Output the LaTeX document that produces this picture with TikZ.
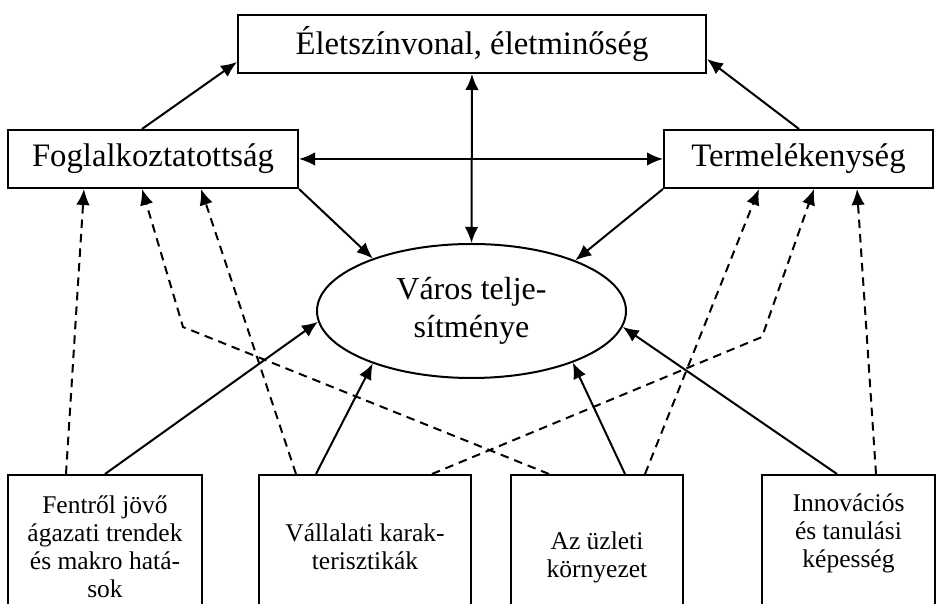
\documentclass[tikz,border=0pt]{standalone}
\usepackage{fontspec}
\setmainfont{Liberation Serif}
\usetikzlibrary{positioning,shapes.geometric,arrows.meta,calc}
% lines of a bottom box, moved up or down by #1 without changing the box size
\newcommand{\liftlines}[2]{\raisebox{#1}[\height][\depth]{\begin{tabular}{@{}c@{}}#2\end{tabular}}}

\begin{document}
\begin{tikzpicture}[x=0.4pt, y=-0.4pt, line width=0.8pt,
    >={Latex[length=6.4pt,width=5.4pt]},
    box/.style={draw, rectangle, minimum height=23.2pt, inner sep=0pt, font=\fontsize{13.1}{15}\selectfont},
    oval/.style={draw, ellipse, minimum width=123.6pt, minimum height=53.6pt, inner sep=0pt, align=center, font=\fontsize{12.8}{15}\selectfont},
    base/.style={draw, rectangle, anchor=north, minimum height=60pt, inner sep=0pt, font=\fontsize{10.2}{11.2}\selectfont},
    infl/.style={->, dash pattern=on 3.4pt off 2.4pt}]
    \clip (0,0) rectangle (941,604);

    \node (life) [box, minimum width=187.2pt] at (472,44) {Életszínvonal, életminőség};
    \node (fog) [box, minimum width=116pt] at (153,159) {Foglalkoztatottság};
    \node (term) [box, minimum width=107.6pt] at (798.5,159) {Termelékenység};
    \node (city) [oval] at (471.5,311) {Város telje-\\sítménye};
    \node (b1) [base, minimum width=77.6pt] at (105,474) {\liftlines{0pt}{Fentről jövő\\ágazati trendek\\és makro hatá-\\sok}};
    \node (b2) [base, minimum width=84.8pt] at (365,474) {\liftlines{0pt}{Vállalati karak-\\terisztikák}};
    \node (b3) [base, minimum width=68.8pt] at (597,474) {\liftlines{-3pt}{Az üzleti\\környezet}};
    \node (b4) [base, minimum width=69.2pt] at (848.5,474) {\liftlines{6.5pt}{Innovációs\\és tanulási\\képesség}};
    \coordinate (bendL) at (183,327);
    \coordinate (bendR) at (762,337);

    % solid links
    \draw[->] ($(fog.north west)+(135,0)$) -- ($(life.north west)+(0,48)$);
    \draw[->] ($(term.north west)+(136,0)$) -- ($(life.north east)+(0,45)$);
    \draw[<->] (life.south) -- (city.north);
    \draw[<->] (fog.east) -- (term.west);
    \draw[->] (fog.south east) -- (city.152.6);
    \draw[->] (term.south west) -- (city.26.9);
    \draw[->] (b1.north) -- (city.184);
    \draw[->] ($(b2.north west)+(58,0)$) -- (city.208);
    \draw[->] ($(b3.north west)+(115,0)$) -- (city.333);
    \draw[->] ($(b4.north west)+(76,0)$) -- (city.354.5);

    % dashed links
    \draw[infl] ($(b1.north west)+(59,0)$) -- ($(fog.south west)+(77,0)$);
    \draw[infl] ($(b3.north west)+(39,0)$) -- (bendL) -- ($(fog.south west)+(135,0)$);
    \draw[infl] ($(b2.north west)+(38,0)$) -- ($(fog.south west)+(194,0)$);
    \draw[infl] ($(b2.north west)+(174,0)$) -- (bendR) -- ($(term.south west)+(151,0)$);
    \draw[infl] ($(b3.north west)+(135,0)$) -- ($(term.south west)+(96,0)$);
    \draw[infl] ($(b4.north west)+(115,0)$) -- ($(term.south west)+(194,0)$);
\end{tikzpicture}
\end{document}
